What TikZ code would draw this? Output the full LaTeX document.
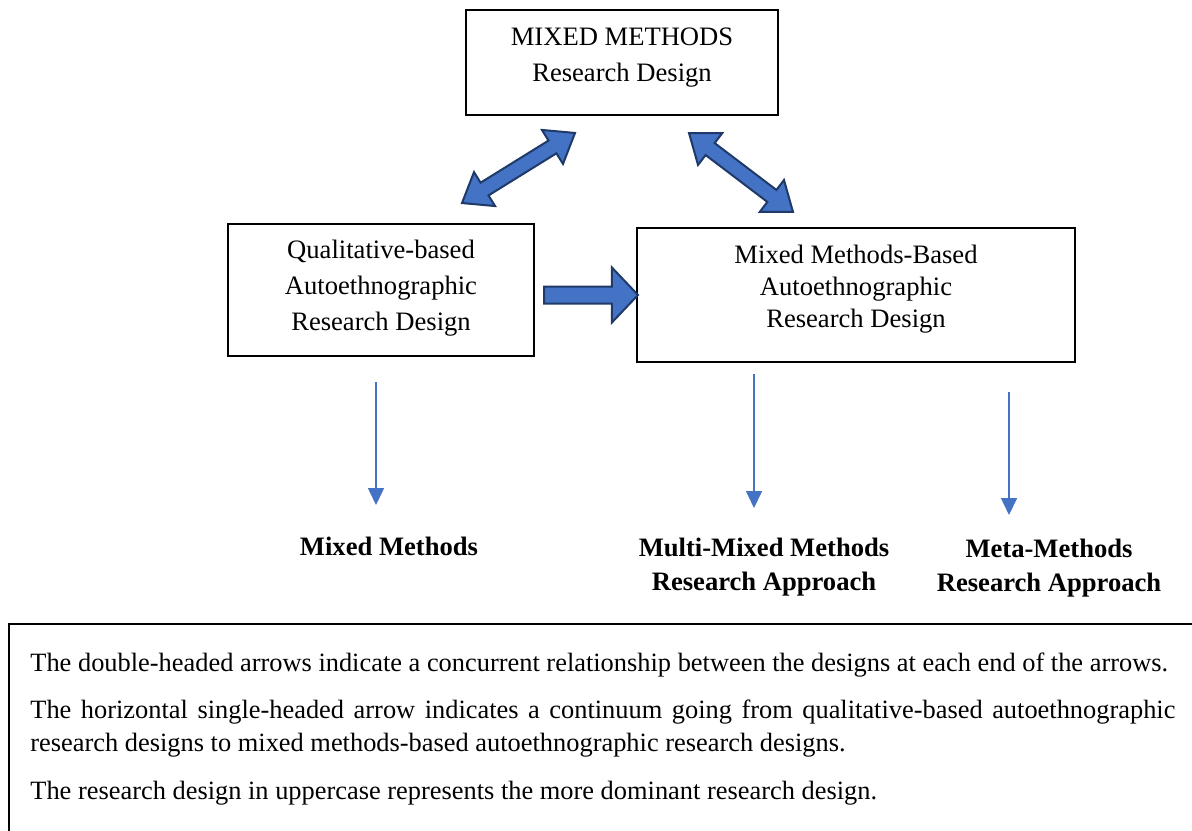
\documentclass[tikz,border=0pt]{standalone}
\usepackage{fontspec}
\setmainfont{Liberation Serif}
\usetikzlibrary{shapes.arrows,arrows.meta,positioning}
\definecolor{shapeblue}{HTML}{4472C4}
\definecolor{shapenavy}{HTML}{1F3A68}
\hyphenpenalty=10000

\begin{document}
\begin{tikzpicture}[x = 0.5pt, y = -0.5pt,
                    font = \fontsize{13.3}{18}\selectfont]
     \tikzset{Design/.style    = {draw,
                                  line width = 0.6pt,
                                  align      = center,
                                  inner sep  = 0pt},
              Block/.style     = {draw       = shapenavy,
                                  fill       = shapeblue,
                                  line width = 1pt,
                                  inner xsep = 0pt},
              Thin/.style      = {draw       = shapeblue,
                                  line width = 0.8pt,
                                  -{Triangle[width = 8pt, length = 8.5pt]}},
              Approach/.style  = {font  = \fontsize{13.3}{17}\selectfont\bfseries,
                                  align = center},
              Note/.style      = {anchor     = west,
                                  inner sep  = 0pt,
                                  text width = 572.5pt,
                                  align      = justify,
                                  font       = \fontsize{13.2}{16.5}\selectfont}}
     \useasboundingbox (0,0) rectangle (1192,830);
     % les trois designs
     \node[Design, minimum width = 156pt, minimum height = 52.5pt,
           text depth = 8pt] (mixed) at (622,62.5)
          {MIXED METHODS\\Research Design};
     \node[Design, minimum width = 153pt, minimum height = 66pt,
           text depth = 5pt] (qual) at (381,290)
          {Qualitative-based\\Autoethnographic\\Research Design};
     \node[Design, minimum width = 219pt, minimum height = 67pt,
           text depth = 9pt, font = \fontsize{13.3}{16}\selectfont] (mmba) at (856,295)
          {Mixed Methods-Based\\Autoethnographic\\Research Design};
     % les fleches pleines
     \node[Block, double arrow, rotate = 31.8, minimum height = 66.5pt,
           minimum width = 19pt, inner ysep = 3.25pt,
           double arrow head extend = 6.25pt, double arrow tip angle = 74] (concur1) at (518.5,168) {};
     \node[Block, double arrow, rotate = -37.2, minimum height = 65.3pt,
           minimum width = 19pt, inner ysep = 3.25pt,
           double arrow head extend = 6.25pt, double arrow tip angle = 74] (concur2) at (741,172.5) {};
     \node[Block, single arrow, anchor = tail, minimum height = 47pt,
           minimum width = 26.5pt, inner ysep = 3.75pt,
           single arrow head extend = 9.5pt, single arrow tip angle = 93] (continuum) at (543,295) {};
     % les approches
     \node[Approach] (mm)    at (389,546)   {Mixed Methods};
     \node[Approach] (multi) at (764,567)   {Multi-Mixed Methods\\Research Approach};
     \node[Approach] (meta)  at (1049,568.5) {Meta-Methods\\Research Approach};
     \coordinate (qualout)  at (376,382);
     \coordinate (qualin)   at (376,505);
     \coordinate (multiout) at (754,374);
     \coordinate (multiin)  at (754,508);
     \coordinate (metaout)  at (1009,392);
     \coordinate (metain)   at (1009,515);
     \draw[Thin] (qualout)  -- (qualin);
     \draw[Thin] (multiout) -- (multiin);
     \draw[Thin] (metaout)  -- (metain);
     % la legende
     \draw[line width = 0.6pt] (1210,624) -- (9,624) -- (9,850);
     \node[Note, text width = 590pt] (note1) at (30,665)
          {The double-headed arrows indicate a concurrent relationship between the designs at each end of the arrows.};
     \node[Note] (note2) at (30,728.5)
          {The horizontal single-headed arrow indicates a continuum going from qualitative-based autoethnographic\linebreak research designs to mixed methods-based autoethnographic research designs.};
     \node[Note] (note3) at (30,793)
          {The research design in uppercase represents the more dominant research design.};
\end{tikzpicture}
\end{document}
